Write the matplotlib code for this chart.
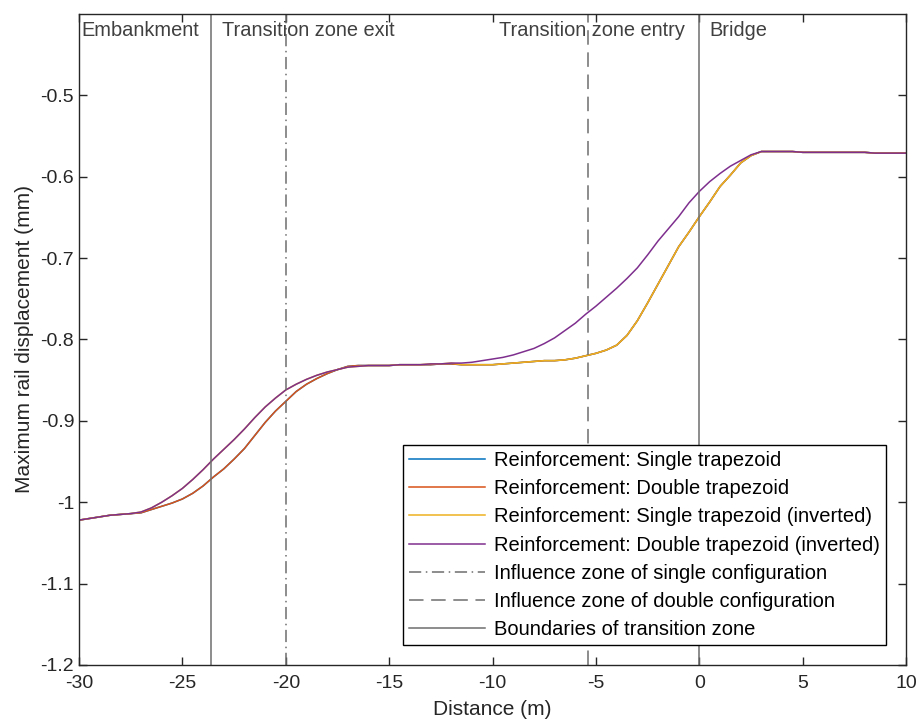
import numpy as np
import matplotlib
matplotlib.use("Agg")
import matplotlib.pyplot as plt

plt.rcParams["font.family"] = ["Liberation Sans", "DejaVu Sans"]
plt.rcParams["axes.unicode_minus"] = False

# distance along the track (m), sampled every 0.5 m
distance = np.arange(-30, 10.01, 0.5)

# maximum rail displacement (mm) in pieces
# embankment side, -30 .. -12 m (37 samples)
left_lower = [-1.022, -1.020, -1.018, -1.016, -1.015, -1.014, -1.013, -1.009, -1.005, -1.001,
              -0.996, -0.989, -0.980, -0.969, -0.959, -0.947, -0.934, -0.918, -0.902, -0.888,
              -0.876, -0.864, -0.855, -0.848, -0.842, -0.837, -0.833, -0.832, -0.832, -0.832,
              -0.832, -0.831, -0.831, -0.831, -0.831, -0.830, -0.830]
left_upper = [-1.022, -1.020, -1.018, -1.016, -1.015, -1.014, -1.012, -1.007, -1.000, -0.992,
              -0.983, -0.972, -0.960, -0.947, -0.935, -0.923, -0.910, -0.896, -0.883, -0.872,
              -0.862, -0.855, -0.849, -0.844, -0.840, -0.837, -0.834, -0.833, -0.832, -0.832,
              -0.832, -0.831, -0.831, -0.831, -0.830, -0.830, -0.829]
# bridge side, -11.5 .. 3 m (30 samples)
right_lower = [-0.831, -0.831, -0.831, -0.831, -0.830, -0.829, -0.828, -0.827, -0.826, -0.826,
               -0.825, -0.823, -0.820, -0.817, -0.813, -0.807, -0.795, -0.777, -0.755, -0.732,
               -0.709, -0.686, -0.668, -0.649, -0.631, -0.612, -0.598, -0.583, -0.574, -0.569]
right_upper = [-0.829, -0.828, -0.826, -0.824, -0.822, -0.819, -0.815, -0.811, -0.805, -0.798,
               -0.789, -0.780, -0.769, -0.759, -0.748, -0.737, -0.725, -0.712, -0.696, -0.679,
               -0.664, -0.649, -0.632, -0.618, -0.606, -0.596, -0.587, -0.580, -0.573, -0.569]
# on the bridge, 3.5 .. 10 m (14 samples)
bridge = [-0.569, -0.569, -0.569, -0.570, -0.570, -0.570, -0.570, -0.570, -0.570, -0.570,
          -0.571, -0.571, -0.571, -0.571]

single_trap = left_lower + right_lower + bridge
double_trap = left_lower + right_lower + bridge
single_trap_inv = left_upper + right_lower + bridge
double_trap_inv = left_upper + right_upper + bridge

series_labels = ["Reinforcement: Single trapezoid",
                 "Reinforcement: Double trapezoid",
                 "Reinforcement: Single trapezoid (inverted)",
                 "Reinforcement: Double trapezoid (inverted)"]
series_colors = ["#0072BD", "#D95319", "#EDB120", "#7E2F8E"]

# vertical marker lines
single_zone_x = -20.0
double_zone_x = -5.4
boundary_x = [-23.6, 0.0]

zone_names = ["Embankment", "Transition zone exit", "Transition zone entry", "Bridge"]
zone_name_x = [-29.9, -23.1, -9.7, 0.5]

fig = plt.figure(figsize=(9.19, 7.22), dpi=100)
ax = fig.add_axes([0.086, 0.079, 0.900, 0.9016])

gray = "#6e6e6e"
for ys, lab, col in zip([single_trap, double_trap, single_trap_inv, double_trap_inv],
                        series_labels, series_colors):
    ax.plot(distance, ys, color=col, lw=1.1, label=lab)

ax.axvline(single_zone_x, color=gray, lw=1.1, dashes=(8, 3, 1, 3),
           label="Influence zone of single configuration")
ax.axvline(double_zone_x, color=gray, lw=1.1, dashes=(9.5, 5),
           label="Influence zone of double configuration")
ax.axvline(boundary_x[0], color=gray, lw=1.1, label="Boundaries of transition zone")
ax.axvline(boundary_x[1], color=gray, lw=1.1)

for name, xx in zip(zone_names, zone_name_x):
    ax.text(xx, -0.42, name, fontsize=14.4, color="#404040", va="center", ha="left")

ax.set_xlim(-30, 10)
ax.set_ylim(-1.2, -0.4)
ax.set_xticks(np.arange(-30, 11, 5))
ax.set_yticks([-1.2, -1.1, -1.0, -0.9, -0.8, -0.7, -0.6, -0.5])
ax.set_yticklabels(["-1.2", "-1.1", "-1", "-0.9", "-0.8", "-0.7", "-0.6", "-0.5"])
ax.tick_params(direction="in", top=True, right=True, length=6, width=1,
               labelsize=14, colors="#262626")
ax.tick_params(axis="x", pad=7)
for s in ax.spines.values():
    s.set_color("#262626")
    s.set_linewidth(1.0)

ax.set_xlabel("Distance (m)", fontsize=15, color="#262626", labelpad=6)
ax.set_ylabel("Maximum rail displacement (mm)", fontsize=15, color="#262626", labelpad=5)

leg = ax.legend(loc="lower right", bbox_to_anchor=(0.976, 0.031), fontsize=14.5,
                handlelength=3.8, handletextpad=0.45, labelspacing=0.45,
                borderpad=0.3, borderaxespad=0, fancybox=False, framealpha=1)
leg.get_frame().set_edgecolor("black")
leg.get_frame().set_linewidth(1.0)

fig.savefig("out.png", dpi=100)
